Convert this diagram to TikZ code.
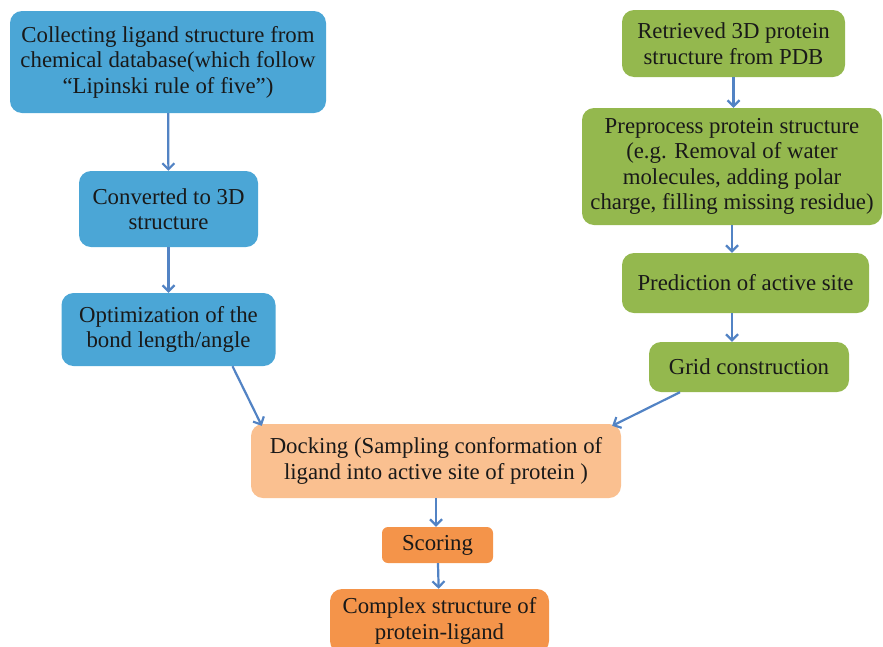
\documentclass[tikz,border=0pt]{standalone}
\usepackage{fontspec}
\setmainfont{Liberation Serif}
\usetikzlibrary{arrows.meta}

\definecolor{ligblue}{HTML}{4BA6D6}
\definecolor{protgreen}{HTML}{94B84E}
\definecolor{dockpeach}{HTML}{FAC090}
\definecolor{scoreorange}{HTML}{F4944A}
\definecolor{flowblue}{HTML}{5283C4}

\begin{document}
\begin{tikzpicture}[x=1pt, y=-1pt,
    every node/.style={rounded corners=12pt, align=center, inner sep=0pt,
        text=black!90, font=\fontsize{22.8}{25.5}\selectfont},
    lig/.style={fill=ligblue},
    prot/.style={fill=protgreen},
    dock/.style={fill=dockpeach},
    score/.style={fill=scoreorange},
    flow/.style={draw=flowblue, line width=2.2pt,
        -{Straight Barb[length=6pt, width=12pt, line width=2.2pt]}}]
    \useasboundingbox (0, 0) rectangle (883, 646);
    \clip (0, 0) rectangle (883, 646);

    % ligand side
    \node[lig, minimum width=316pt, minimum height=102pt] (l1) at (168, 62)
        {Collecting ligand structure from\\chemical database(which follow\\“Lipinski rule of five”)};
    \node[lig, minimum width=179pt, minimum height=76pt] (l2) at (168.5, 209)
        {Converted to 3D\\structure};
    \node[lig, minimum width=214pt, minimum height=73pt] (l3) at (168.5, 329.5)
        {Optimization of the\\bond length/angle};

    % protein side
    \node[prot, minimum width=223pt, minimum height=67pt] (p1) at (733.5, 43.5)
        {Retrieved 3D protein\\structure from PDB};
    \node[prot, minimum width=300pt, minimum height=117pt] (p2) at (732, 166.5)
        {Preprocess protein structure\\(e.g. Removal of water\\molecules, adding polar\\charge, filling missing residue)};
    \node[prot, minimum width=247pt, minimum height=60pt] (p3) at (745.5, 283)
        {Prediction of active site};
    \node[prot, minimum width=200pt, minimum height=50pt] (p4) at (749, 367)
        {Grid construction};

    % docking and scoring
    \node[dock, minimum width=370pt, minimum height=74pt] (d1) at (436, 461)
        {Docking (Sampling conformation of\\ligand into active site of protein )};
    \node[score, minimum width=111pt, minimum height=36pt, rounded corners=6pt] (s1) at (437.5, 545)
        {Scoring};
    \node[score, minimum width=219pt, minimum height=64pt] (c1) at (439.5, 621)
        {Complex structure of\\protein-ligand};

    \draw[flow] (l1) -- (l2);
    \draw[flow] (l2) -- (l3);
    \draw[flow] ([xshift=64pt]l3.south) -- ([xshift=11pt, yshift=-2pt]d1.north west);

    \draw[flow] (p1.south) -- (p1.south |- p2.north);
    \draw[flow] (p2.south) -- (p2.south |- p3.north);
    \draw[flow] (p2.south |- p3.south) -- (p2.south |- p4.north);
    \draw[flow] ([xshift=-69pt]p4.south) -- ([xshift=-9pt, yshift=-2pt]d1.north east);

    \draw[flow] (d1.south) -- (d1.south |- s1.north);
    \draw[flow] (s1) -- (c1);
\end{tikzpicture}
\end{document}
